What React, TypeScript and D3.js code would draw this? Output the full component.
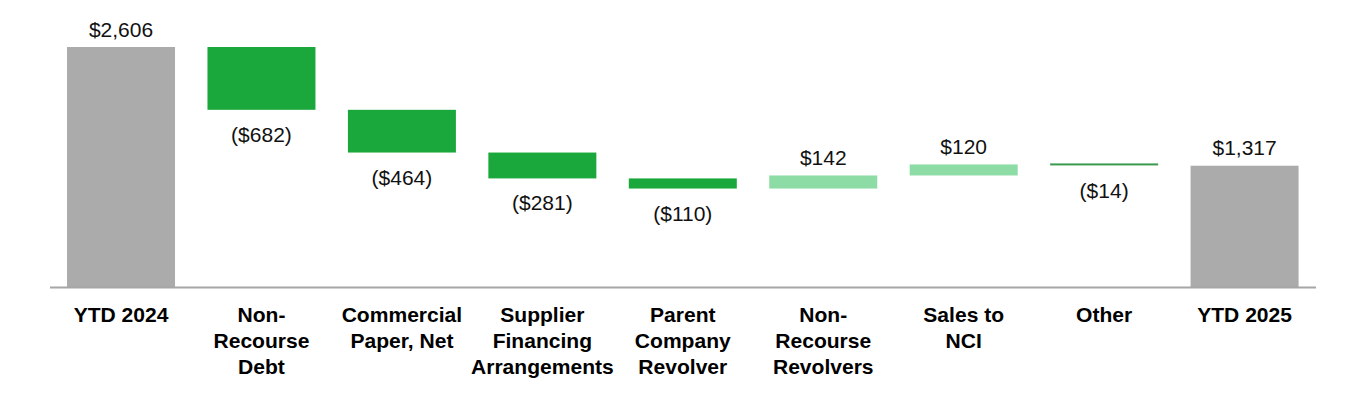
import React from "react";
import * as d3 from "d3";

const categories: string[][] = [
  ["YTD 2024"],
  ["Non-", "Recourse", "Debt"],
  ["Commercial", "Paper, Net"],
  ["Supplier", "Financing", "Arrangements"],
  ["Parent", "Company", "Revolver"],
  ["Non-", "Recourse", "Revolvers"],
  ["Sales to", "NCI"],
  ["Other"],
  ["YTD 2025"],
];
const kinds = ["total", "delta", "delta", "delta", "delta", "delta", "delta", "delta", "total"];
const values = [2606, -682, -464, -281, -110, 142, 120, -14, 1317];
const valueLabels = ["$2,606", "($682)", "($464)", "($281)", "($110)", "$142", "$120", "($14)", "$1,317"];

const W = 1364;
const H = 398;
const GRAY = "#ababab";
const DARK = "#1aa83c";
const LIGHT = "#8ddba5";
const LINEGREEN = "#3a9a50";

export default function App() {
  const keys = categories.map((c) => c.join(" "));
  const x = d3.scaleBand<string>().domain(keys).range([50.8, 1314.8]).paddingInner(0.231).paddingOuter(0.1155);
  const y = d3.scaleLinear().domain([0, 2606]).range([287, 47]);

  let running = 0;
  const bars = values.map((v, i) => {
    let lo: number, hi: number;
    if (kinds[i] === "total") {
      lo = 0;
      hi = v;
      running = v;
    } else {
      const start = running;
      running = start + v;
      lo = Math.min(start, running);
      hi = Math.max(start, running);
    }
    const fill = kinds[i] === "total" ? GRAY : v >= 0 ? LIGHT : DARK;
    return { key: keys[i], lo, hi, v, fill, label: valueLabels[i], kind: kinds[i] };
  });

  return (
    <svg width={W} height={H} style={{ position: "absolute", left: 0, top: 0, background: "#fff" }}>
      {bars.map((b, i) => {
        const x0 = x(b.key)!;
        const bw = x.bandwidth();
        const yTop = y(b.hi);
        const yBot = y(b.lo);
        const h = Math.max(yBot - yTop, 0);
        const thin = h < 3;
        const cx = x0 + bw / 2;
        const labelAbove = b.v >= 0;
        return (
          <g key={i}>
            {thin ? (
              <rect x={x0} y={yTop - 1} width={bw} height={2} fill={LINEGREEN} />
            ) : (
              <rect x={x0} y={yTop} width={bw} height={h} fill={b.fill} />
            )}
            <text
              x={cx}
              y={labelAbove ? yTop - 10.5 : yBot + 32}
              textAnchor="middle"
              fontFamily="Liberation Sans, Arial, sans-serif"
              fontSize={21}
              fill="#111"
            >
              {b.label}
            </text>
          </g>
        );
      })}
      <line x1={50} x2={1316} y1={287.5} y2={287.5} stroke="#a6a6a6" strokeWidth={2} />
      {categories.map((lines, i) => {
        const cx = x(keys[i])! + x.bandwidth() / 2;
        return (
          <text
            key={i}
            transform={`translate(${cx},322) scale(1.08,1)`}
            textAnchor="middle"
            fontFamily="Liberation Sans, Arial, sans-serif"
            fontWeight="bold"
            fontSize={19.5}
            fill="#000"
          >
            {lines.map((l, j) => (
              <tspan key={j} x={0} dy={j === 0 ? 0 : 26}>
                {l}
              </tspan>
            ))}
          </text>
        );
      })}
    </svg>
  );
}
